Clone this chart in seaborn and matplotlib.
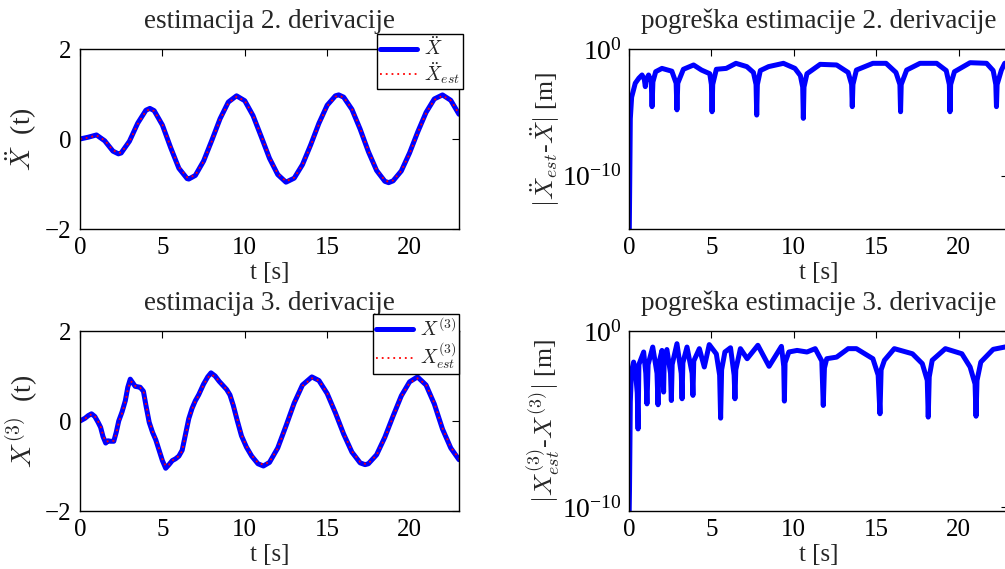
import numpy as np
import pandas as pd
import matplotlib
matplotlib.use("Agg")
import matplotlib.pyplot as plt
import seaborn as sns

# ---------------- data ----------------
# 2nd derivative: time, true value, estimate
t2 = [0.0, 0.5, 1.0, 1.5, 2.0, 2.33, 2.5, 3.0, 3.5, 4.0, 4.24, 4.5, 5.0, 5.5, 6.0,
      6.5, 6.6, 7.0, 7.5, 8.0, 8.5, 9.0, 9.5, 10.0, 10.5, 11.0, 11.5, 12.0, 12.5,
      13.0, 13.5, 14.0, 14.5, 15.0, 15.5, 15.7, 16.0, 16.5, 17.0, 17.5, 18.0, 18.5,
      18.73, 19.0, 19.5, 20.0, 20.5, 21.0, 21.5, 22.0, 22.5, 23.0]
x2 = [0.00, 0.04, 0.09, -0.04, -0.27, -0.33, -0.31, -0.05, 0.35, 0.64, 0.68, 0.63,
      0.31, -0.19, -0.65, -0.88, -0.89, -0.81, -0.49, -0.03, 0.45, 0.82, 0.96, 0.85,
      0.52, 0.05, -0.43, -0.79, -0.96, -0.87, -0.57, -0.13, 0.35, 0.75, 0.96, 0.98,
      0.93, 0.66, 0.22, -0.28, -0.70, -0.94, -0.97, -0.93, -0.71, -0.31, 0.16, 0.59,
      0.89, 0.98, 0.86, 0.55]
x2_est = [0.00, 0.03, 0.08, -0.03, -0.25, -0.31, -0.30, -0.06, 0.33, 0.62, 0.66, 0.62,
          0.32, -0.17, -0.62, -0.85, -0.86, -0.80, -0.50, -0.05, 0.43, 0.80, 0.94, 0.85,
          0.53, 0.07, -0.41, -0.77, -0.94, -0.86, -0.58, -0.15, 0.33, 0.73, 0.94, 0.96,
          0.93, 0.67, 0.24, -0.26, -0.68, -0.92, -0.95, -0.92, -0.71, -0.33, 0.14, 0.57,
          0.87, 0.96, 0.86, 0.56]

# 3rd derivative: time, true value, estimate
t3 = [0.0, 0.3, 0.5, 0.7, 0.9, 1.1, 1.25, 1.4, 1.56, 1.7, 1.85, 2.05, 2.2, 2.35, 2.55,
      2.75, 2.9, 3.05, 3.2, 3.35, 3.5, 3.65, 3.85, 4.0, 4.2, 4.4, 4.6, 4.8, 5.0, 5.2,
      5.4, 5.6, 5.8, 6.0, 6.2, 6.4, 6.6, 6.8, 7.0, 7.2, 7.5, 7.75, 7.95, 8.2, 8.45,
      8.9, 9.1, 9.3, 9.55, 9.8, 10.1, 10.42, 10.8, 11.13, 11.5, 12.0, 12.5, 13.0,
      13.5, 14.07, 14.5, 15.0, 15.5, 16.0, 16.5, 17.0, 17.3, 17.5, 18.0, 18.5, 19.0,
      19.5, 20.0, 20.48, 21.0, 21.5, 22.0, 22.5, 23.0]
x3 = [0.00, 0.06, 0.12, 0.16, 0.10, -0.03, -0.14, -0.35, -0.49, -0.44, -0.45, -0.45,
      -0.25, 0.00, 0.20, 0.45, 0.75, 0.93, 0.85, 0.77, 0.76, 0.75, 0.66, 0.35, -0.03,
      -0.25, -0.42, -0.65, -0.88, -1.05, -0.97, -0.88, -0.84, -0.78, -0.65, -0.30,
      0.05, 0.28, 0.45, 0.58, 0.82, 0.98, 1.07, 1.00, 0.88, 0.70, 0.58, 0.35, 0.00,
      -0.33, -0.58, -0.78, -0.95, -1.00, -0.92, -0.60, -0.11, 0.40, 0.80, 0.98, 0.90,
      0.61, 0.18, -0.29, -0.69, -0.93, -0.97, -0.95, -0.75, -0.36, 0.11, 0.56, 0.87,
      0.98, 0.80, 0.38, -0.18, -0.60, -0.86]
x3_est = [0.00, 0.05, 0.11, 0.15, 0.11, -0.01, -0.12, -0.32, -0.46, -0.45, -0.44, -0.44,
          -0.28, -0.03, 0.17, 0.42, 0.70, 0.88, 0.86, 0.78, 0.75, 0.74, 0.67, 0.38, 0.00,
          -0.22, -0.40, -0.62, -0.85, -1.00, -0.97, -0.88, -0.83, -0.78, -0.67, -0.33,
          0.02, 0.26, 0.43, 0.57, 0.80, 0.96, 1.03, 0.99, 0.88, 0.70, 0.59, 0.37, 0.03,
          -0.30, -0.56, -0.76, -0.93, -0.97, -0.91, -0.61, -0.13, 0.38, 0.78, 0.95, 0.90,
          0.62, 0.20, -0.27, -0.67, -0.91, -0.95, -0.94, -0.76, -0.38, 0.09, 0.54, 0.85,
          0.95, 0.81, 0.40, -0.16, -0.58, -0.84]

# |error| of 2nd derivative estimate, as log10 values
te2 = [0.0, 0.02, 0.08, 0.16, 0.38, 0.6, 0.79, 0.93, 0.99, 1.05, 1.19, 1.35, 1.4,
       1.45, 1.62, 2.0, 2.6, 2.86, 2.91, 2.96, 3.3, 3.92, 4.4, 4.9, 5.0, 5.04, 5.08,
       5.3, 5.9, 6.49, 7.15, 7.55, 7.71, 7.75, 7.79, 7.97, 8.47, 9.37, 10.07, 10.4,
       10.54, 10.58, 10.62, 10.8, 11.6, 12.6, 13.3, 13.51, 13.55, 13.59, 13.8, 14.8,
       15.6, 16.2, 16.44, 16.48, 16.52, 16.85, 17.66, 18.67, 19.25, 19.44, 19.48, 19.52,
       19.75, 20.7, 21.7, 22.1, 22.26, 22.3, 22.34, 22.6, 22.8, 23.0]
le2 = [-16.0, -14.0, -5.5, -3.8, -2.7, -2.3, -2.05, -2.4, -2.97, -2.4, -2.05, -2.6,
       -4.55, -2.6, -1.79, -1.53, -1.75, -2.7, -4.8, -2.7, -1.6, -1.26, -1.66, -1.95,
       -2.8, -4.95, -2.8, -1.6, -1.53, -1.13, -1.39, -1.85, -2.8, -5.21, -2.8, -1.7,
       -1.39, -1.13, -1.53, -2.1, -3.0, -5.47, -3.0, -1.95, -1.21, -1.26, -1.85, -2.8,
       -4.55, -2.8, -1.66, -1.13, -1.13, -1.85, -2.8, -4.95, -2.8, -1.66, -1.13, -1.13,
       -1.7, -2.8, -4.95, -2.8, -1.79, -1.08, -1.13, -1.7, -2.8, -4.55, -2.8, -1.66,
       -1.13, -1.05]

# |error| of 3rd derivative estimate, as log10 values
te3 = [0.0, 0.03, 0.08, 0.15, 0.28, 0.4, 0.5, 0.55, 0.6, 0.89, 1.02, 1.09, 1.16,
       1.44, 1.7, 1.76, 1.82, 2.0, 2.07, 2.1, 2.13, 2.3, 2.52, 2.57, 2.62, 2.91,
       3.17, 3.22, 3.27, 3.52, 3.83, 3.88, 3.93, 4.27, 4.57, 4.87, 5.3, 5.5, 5.56,
       5.62, 5.82, 6.16, 6.38, 6.43, 6.48, 6.76, 7.17, 7.82, 8.5, 8.9, 9.25, 9.39,
       9.43, 9.47, 9.7, 10.2, 10.8, 11.3, 11.7, 11.79, 11.86, 12.0, 12.6, 13.3, 13.8,
       14.8, 15.12, 15.23, 15.3, 15.5, 16.1, 17.2, 17.8, 18.1, 18.16, 18.22, 18.4,
       19.2, 20.2, 20.7, 21.0, 21.06, 21.12, 21.35, 22.1, 22.8, 23.0]
le3 = [-11.0, -9.0, -4.0, -2.3, -1.76, -2.4, -3.5, -5.55, -1.9, -1.19, -2.4, -4.13,
       -1.9, -0.91, -2.4, -4.18, -1.8, -1.1, -2.4, -3.46, -1.9, -1.05, -2.4, -3.94,
       -1.9, -0.72, -2.4, -3.84, -1.8, -0.91, -2.4, -3.65, -1.7, -1.0, -2.04, -0.77,
       -1.3, -2.5, -4.94, -2.2, -1.19, -0.95, -2.5, -3.84, -2.2, -1.0, -1.57, -0.81,
       -2.0, -1.4, -0.87, -2.0, -3.97, -1.8, -1.19, -1.1, -1.19, -1.0, -1.7, -4.22,
       -2.1, -1.57, -1.48, -1.0, -1.0, -1.57, -2.5, -4.69, -2.2, -1.66, -1.0, -1.29,
       -1.85, -2.8, -4.88, -2.6, -1.66, -1.0, -1.29, -2.04, -3.0, -4.83, -2.8, -1.76,
       -1.04, -0.91, -0.88]

assert len(t2) == len(x2) == len(x2_est)
assert len(t3) == len(x3) == len(x3_est)
assert len(te2) == len(le2)
assert len(te3) == len(le3)

titles = ["estimacija 2. derivacije", "pogreška estimacije 2. derivacije",
          "estimacija 3. derivacije", "pogreška estimacije 3. derivacije"]
ylabels = [r"$\ddot{X}$  (t)", r"$|\ddot{X}_{est}$-$\ddot{X}|$ [m]",
           r"$X^{(3)}$  (t)", r"$|X^{(3)}_{est}$-$X^{(3)}|$ [m]"]
leg2 = [r"$\ddot{X}$", r"$\ddot{X}_{est}$"]
leg3 = [r"$X^{(3)}$", r"$X^{(3)}_{est}$"]
xticks = [0, 5, 10, 15, 20]
lin_yticks = [-2, 0, 2]

# ---------------- style ----------------
sns.set_theme(style="white")
plt.rcParams["font.family"] = ["Liberation Serif", "DejaVu Serif"]
plt.rcParams["mathtext.fontset"] = "cm"
plt.rcParams["axes.edgecolor"] = "black"
plt.rcParams["axes.linewidth"] = 1.0
plt.rcParams["lines.solid_joinstyle"] = "round"
plt.rcParams["lines.solid_capstyle"] = "round"

W, H = 1005, 569
fig = plt.figure(figsize=(W / 100, H / 100), dpi=100)

def frac(l, t, w, h):
    return [l / W, 1 - (t + h) / H, w / W, h / H]

ax_tl = fig.add_axes(frac(80, 49, 379, 180))
ax_tr = fig.add_axes(frac(629, 49, 379, 180))
ax_bl = fig.add_axes(frac(80, 331, 379, 180))
ax_br = fig.add_axes(frac(629, 331, 379, 180))

BLUE = "#0000ff"
RED = "#ff0000"
TICK_FS = 18
XLAB_FS = 18
TITLE_FS = 19.5
LW = 3.6

def style(ax):
    ax.tick_params(direction="in", top=True, right=True, length=5, width=0.8,
                   labelsize=TICK_FS, pad=6, colors="black")
    for s in ax.spines.values():
        s.set_visible(True)
        s.set_color("black")
        s.set_linewidth(1.0)
    ax.set_xlim(0, 23)
    ax.set_xticks(xticks)
    ax.set_xlabel("t [s]", fontsize=XLAB_FS, labelpad=2)

# --- left column: signals ---
for ax, t, y, ye, labs, title, ylab in [
        (ax_tl, t2, x2, x2_est, leg2, titles[0], ylabels[0]),
        (ax_bl, t3, x3, x3_est, leg3, titles[2], ylabels[2])]:
    df = pd.DataFrame({"t": t, "y": y, "ye": ye})
    sns.lineplot(data=df, x="t", y="y", ax=ax, color=BLUE, lw=LW, sort=False,
                 estimator=None, label=labs[0])
    sns.lineplot(data=df, x="t", y="ye", ax=ax, color=RED, lw=1.3, ls=(0, (1, 2.2)),
                 sort=False, estimator=None, label=labs[1])
    style(ax)
    ax.set_ylim(-2, 2)
    ax.set_yticks(lin_yticks)
    ax.set_ylabel(ylab, fontsize=20, labelpad=4)
    ax.set_title(title, fontsize=TITLE_FS, pad=15)

# legends placed in figure pixel coordinates
for ax, x0, y0 in [(ax_tl, 377, 34), (ax_bl, 373, 314)]:
    leg = ax.legend(loc="upper left", bbox_to_anchor=(x0 / W, 1 - y0 / H),
                    bbox_transform=fig.transFigure, borderaxespad=0, fontsize=14,
                    handlelength=1.9, frameon=True, fancybox=False, framealpha=1,
                    edgecolor="black", borderpad=0.15, labelspacing=0.05,
                    handletextpad=0.35)
    leg.get_frame().set_linewidth(1.0)

# --- right column: log errors ---
for ax, t, le, title, ylab, ylo in [
        (ax_tr, te2, le2, titles[1], ylabels[1], 10 ** -14.2),
        (ax_br, te3, le3, titles[3], ylabels[3], 10 ** -10.2)]:
    ax.set_yscale("log")
    df = pd.DataFrame({"t": t, "e": np.power(10.0, le)})
    sns.lineplot(data=df, x="t", y="e", ax=ax, color=BLUE, lw=LW, sort=False,
                 estimator=None, legend=False)
    style(ax)
    ax.set_ylim(ylo, 1.0)
    ax.set_yticks([1e-10, 1e0])
    ax.yaxis.set_minor_locator(matplotlib.ticker.NullLocator())
    ax.tick_params(axis="y", labelsize=20, pad=5)
    ax.set_ylabel(ylab, fontsize=18.5, labelpad=0)
    ax.set_title(title, fontsize=TITLE_FS, pad=15)

fig.savefig("out.png", dpi=100)
